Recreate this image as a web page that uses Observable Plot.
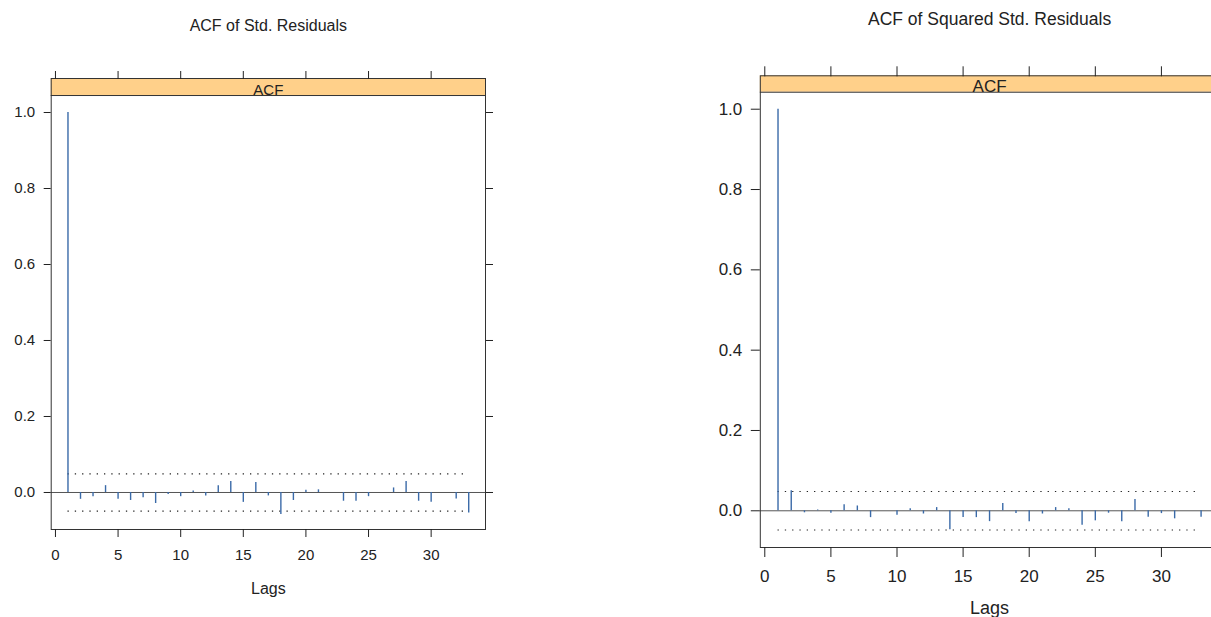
<!DOCTYPE html>
<html><head><meta charset="utf-8">
<script src="https://cdn.jsdelivr.net/npm/d3@7"></script>
<script src="https://cdn.jsdelivr.net/npm/@observablehq/plot@0.6"></script>
<style>
html,body{margin:0;padding:0;background:#fff;}
#wrap{position:relative;width:1211px;height:617px;overflow:hidden;}
.panel{position:absolute;top:0;}
</style></head><body><div id="wrap"></div>
<script>
const lags = [1,2,3,4,5,6,7,8,9,10,11,12,13,14,15,16,17,18,19,20,21,22,23,24,25,26,27,28,29,30,31,32,33];
const acfResid = [1.0,-0.018,-0.011,0.018,-0.018,-0.021,-0.014,-0.029,-0.005,-0.011,0.004,-0.009,0.018,0.029,-0.026,0.026,-0.009,-0.058,-0.021,0.006,0.007,0.0,-0.023,-0.023,-0.011,0.0,0.012,0.029,-0.023,-0.026,0.0,-0.017,-0.054];
const acfSqResid = [1.0,0.050,-0.005,0.002,-0.006,0.015,0.012,-0.017,0.0,-0.011,0.005,-0.008,0.008,-0.047,-0.017,-0.017,-0.027,0.018,-0.007,-0.027,-0.008,0.008,0.005,-0.036,-0.025,-0.006,-0.027,0.028,-0.016,-0.007,-0.020,0.0,-0.016];
const confResid = 0.049;
const confSqResid = 0.048;
const xTicks = [0,5,10,15,20,25,30];
const yTicks = [0.0,0.2,0.4,0.6,0.8,1.0];
const titles = ["ACF of Std. Residuals","ACF of Squared Std. Residuals"];
const stripLabel = "ACF";
const xLabel = "Lags";

function panel(values, conf, title, g) {
  const data = values.map((v, i) => ({lag: lags[i], acf: v}));
  const xd = [-0.34, 34.34];
  return Plot.plot({
    width: g.width, height: 617,
    marginLeft: g.ml, marginRight: g.mr, marginTop: g.mt, marginBottom: g.mb,
    style: {fontFamily: "'Liberation Sans', Arial, sans-serif", fontSize: g.fs + "px", color: "#222", background: "transparent", overflow: "visible"},
    x: {domain: xd},
    y: {domain: g.yd},
    marks: [
      Plot.rect([0], {x1: xd[0], x2: xd[1], y1: g.strip, y2: g.yd[1], fill: "#ffd08a"}),
      Plot.ruleY([g.strip], {stroke: "#333"}),
      Plot.ruleY([0], {stroke: "#555"}),
      Plot.ruleY([conf, -conf], {x1: lags[0], x2: lags[lags.length-1], stroke: "#222", strokeWidth: 1.1, strokeDasharray: "1.3,6"}),
      Plot.ruleX(data, {x: "lag", y1: 0, y2: "acf", stroke: "#3a6aa8", strokeWidth: 1.4}),
      Plot.frame({stroke: "#333"}),
      Plot.axisY(yTicks, {anchor: "left", tickSize: g.ts, tickPadding: 9, tickFormat: d3.format(".1f"), label: null}),
      Plot.axisY(yTicks, {anchor: "right", tickSize: g.ts, tickFormat: () => "", label: null}),
      Plot.axisX(xTicks, {anchor: "bottom", tickSize: g.ts + 1, tickPadding: 12, label: null}),
      Plot.axisX(xTicks, {anchor: "top", tickSize: g.ts + 1, tickFormat: () => "", label: null}),
      Plot.text([stripLabel], {frameAnchor: "top", dy: g.stripDy, lineAnchor: "middle", fill: "#222"}),
      Plot.text([title], {frameAnchor: "top", dy: g.titleDy, lineAnchor: "middle", fill: "#222", fontSize: g.tfs}),
      Plot.text([xLabel], {frameAnchor: "bottom", dy: g.labDy, lineAnchor: "middle", fill: "#222", fontSize: g.fs + 1})
    ]
  });
}

const wrap = document.getElementById("wrap");
const p1 = panel(acfResid, confResid, titles[0], {width: 560, ml: 50.7, mr: 75, mt: 78, mb: 88, yd: [-0.0974, 1.0895], strip: 1.0447, fs: 15, tfs: 16, ts: 7, stripDy: 12, titleDy: -53, labDy: 59});
p1.classList.add("panel"); p1.style.left = "0px";
wrap.appendChild(p1);
const p2 = panel(acfSqResid, confSqResid, titles[1], {width: 580, ml: 119.8, mr: 1.7, mt: 75.3, mb: 70, yd: [-0.0914, 1.0832], strip: 1.0423, fs: 17, tfs: 17.5, ts: 9, stripDy: 10.5, titleDy: -56.3, labDy: 61});
p2.classList.add("panel"); p2.style.left = "640px";
wrap.appendChild(p2);
</script></body></html>
